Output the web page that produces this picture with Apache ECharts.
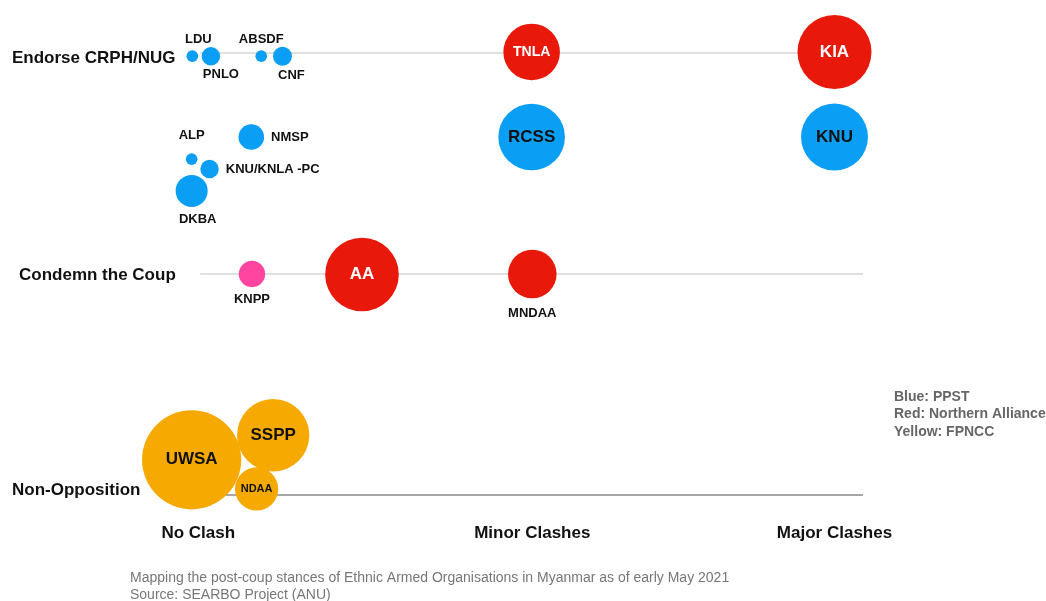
<!DOCTYPE html>
<html>
<head>
<meta charset="utf-8">
<script src="https://cdn.jsdelivr.net/npm/echarts@6/dist/echarts.min.js"></script>
<style>
  html, body { margin: 0; padding: 0; background: #fff; }
  #chart { width: 1046px; height: 601px; }
</style>
</head>
<body>
<div id="chart"></div>
<script>
// organisations and where they sit
const orgNames = ["LDU", "PNLO", "ABSDF", "CNF", "TNLA", "KIA",
  "ALP", "NMSP", "KNU/KNLA -PC", "DKBA", "RCSS", "KNU",
  "KNPP", "AA", "MNDAA", "UWSA", "SSPP", "NDAA"];
// clash level (0 = no clash, 50 = minor, ~96 = major)
const clashLevel = [-1.2, 1.6, 9.2, 12.4, 50, 95.7,
  -1.3, 7.7, 1.4, -1.3, 50, 95.7,
  7.8, 24.4, 50.1, -1.3, 11.0, 8.5];
// stance (0 = non-opposition, 10 = condemn, 20 = endorse)
const stanceLevel = [19.86, 19.86, 19.86, 19.86, 20.05, 20.05,
  15.2, 16.2, 14.75, 13.76, 16.2, 16.2,
  10.0, 9.98, 10.0, 1.59, 2.7, 0.27];
// relative bubble size
const strength = [34, 85, 34, 90, 800, 1370,
  34, 164, 85, 256, 1110, 1120,
  174, 1355, 590, 2460, 1310, 467];
const bloc = ["PPST", "PPST", "PPST", "PPST", "NA", "NA",
  "PPST", "PPST", "PPST", "PPST", "PPST", "PPST",
  "Other", "NA", "NA", "FPNCC", "FPNCC", "FPNCC"];

const clashTicks = [-0.3, 50.1, 95.7];
const clashLabels = ["No Clash", "Minor Clashes", "Major Clashes"];
const stanceTicks = [0.2, 9.95, 19.77];
const stanceLabels = ["Non-Opposition", "Condemn the Coup", "Endorse CRPH/NUG"];
const guideRows = [20, 10, 0];
const guideSpan = [0, 100];

const font = "'Liberation Sans', Arial, Helvetica, sans-serif";
const blocColors = { PPST: "#0a9ef5", NA: "#e8190b", FPNCC: "#f6a900", Other: "#ff45a0" };

const outLabel = { fontSize: 13, fontWeight: "bold", color: "#111" };
const labelStyles = {
  "LDU": { position: "top", distance: 4, offset: [6, 0], ...outLabel },
  "PNLO": { position: "bottom", distance: 3, offset: [10, 0], ...outLabel },
  "ABSDF": { position: "top", distance: 4, offset: [0, 0], ...outLabel },
  "CNF": { position: "bottom", distance: 3, offset: [9, 0], ...outLabel },
  "ALP": { position: "top", distance: 11, offset: [0, 0], ...outLabel },
  "NMSP": { position: "right", distance: 7, ...outLabel },
  "KNU/KNLA -PC": { position: "right", distance: 7, ...outLabel },
  "DKBA": { position: "bottom", distance: 6, offset: [6, 0], ...outLabel },
  "KNPP": { position: "bottom", distance: 6, ...outLabel },
  "MNDAA": { position: "bottom", distance: 9, ...outLabel },
  "TNLA": { position: "inside", color: "#fff", fontSize: 14, fontWeight: "bold" },
  "KIA": { position: "inside", color: "#fff", fontSize: 17, fontWeight: "bold" },
  "AA": { position: "inside", color: "#fff", fontSize: 17, fontWeight: "bold" },
  "RCSS": { position: "inside", color: "#111", fontSize: 17, fontWeight: "bold" },
  "KNU": { position: "inside", color: "#111", fontSize: 17, fontWeight: "bold" },
  "UWSA": { position: "inside", color: "#111", fontSize: 17, fontWeight: "bold" },
  "SSPP": { position: "inside", color: "#111", fontSize: 17, fontWeight: "bold" },
  "NDAA": { position: "inside", color: "#111", fontSize: 11, fontWeight: "bold" }
};

const bubbles = orgNames.map((name, i) => ({
  name: name,
  value: [clashLevel[i], stanceLevel[i], strength[i]],
  itemStyle: { color: blocColors[bloc[i]] },
  label: { show: true, formatter: "{b}", fontFamily: font, ...labelStyles[name] }
}));

const guideSeries = guideRows.map((row) => ({
  type: "line",
  silent: true,
  symbol: "none",
  data: [[guideSpan[0], row], [guideSpan[1], row]],
  lineStyle: { color: row === 0 ? "#8a8a8a" : "#d6d6d6", width: 1.5 },
  z: 1
}));

const chart = echarts.init(document.getElementById("chart"));
chart.setOption({
  animation: false,
  textStyle: { fontFamily: font },
  grid: { left: 134, right: 183, top: 31, bottom: 84 },
  title: [
    {
      text: "Mapping the post-coup stances of Ethnic Armed Organisations in Myanmar as of early May 2021\nSource: SEARBO Project (ANU)",
      left: 130, top: 570,
      padding: 0,
      textStyle: { fontSize: 14, fontWeight: "normal", color: "#777", lineHeight: 16.5, fontFamily: font }
    },
    {
      text: "Blue: PPST\nRed: Northern Alliance\nYellow: FPNCC",
      left: 894, top: 388,
      padding: 0,
      textStyle: { fontSize: 14, fontWeight: "bold", color: "#666", lineHeight: 17.5, fontFamily: font }
    }
  ],
  xAxis: {
    type: "value",
    min: -10, max: 100,
    axisLine: { show: false },
    axisTick: { show: false },
    splitLine: { show: false },
    axisLabel: {
      customValues: clashTicks,
      margin: 8,
      fontSize: 17, fontWeight: "bold", color: "#111",
      formatter: (v) => clashLabels[clashTicks.indexOf(v)] || ""
    }
  },
  yAxis: {
    type: "value",
    min: -1, max: 21,
    axisLine: { show: false },
    axisTick: { show: false },
    splitLine: { show: false },
    axisLabel: {
      customValues: stanceTicks,
      align: "left",
      margin: 122,
      fontSize: 17, fontWeight: "bold", color: "#111",
      formatter: (v) => {
        const label = stanceLabels[stanceTicks.indexOf(v)] || "";
        return label === "Condemn the Coup" ? "{pad|" + label + "}" : label;
      },
      rich: {
        pad: { fontSize: 17, fontWeight: "bold", color: "#111", padding: [0, 0, 0, 7] }
      }
    }
  },
  series: [
    ...guideSeries,
    {
      type: "scatter",
      clip: false,
      z: 3,
      data: bubbles,
      symbolSize: (val) => 2 * Math.sqrt(val[2]),
      itemStyle: { opacity: 1 },
      emphasis: { disabled: true }
    }
  ]
});
</script>
</body>
</html>
